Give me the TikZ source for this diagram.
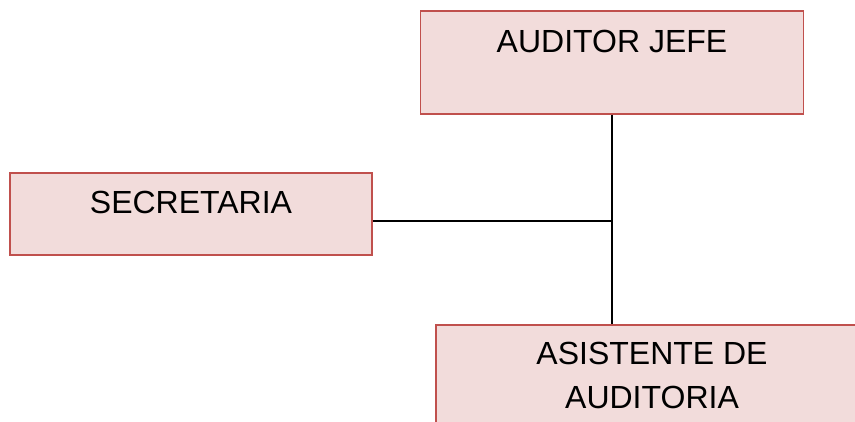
\documentclass[tikz,border=0pt]{standalone}
\usepackage{fontspec}
\setmainfont{Liberation Sans}

\tikzstyle{block} = [draw=boxred, fill=boxfill, line width=1.4pt, rectangle, inner sep=0pt, anchor=north, align=center, font=\fontsize{24}{33}\selectfont]
\tikzstyle{line} = [draw, line width=1.4pt]
\definecolor{boxred}{RGB}{192,80,77}
\definecolor{boxfill}{RGB}{242,220,219}

\begin{document}
\begin{tikzpicture}[x=0.75pt, y=-0.75pt]
	\useasboundingbox (0,0) rectangle (855,421);
	\clip (0,0) rectangle (855,421);

	\node [block, minimum width=287.25pt, text height=31.5pt, text depth=45.75pt] (jefe) at (612,10) {AUDITOR JEFE};
	\node [block, minimum width=271.5pt, text height=30.75pt, text depth=30.75pt] (secre) at (191,172) {SECRETARIA};
	\node [block, minimum width=324pt, text height=63pt, text depth=13.5pt] (asis) at (652,324) {ASISTENTE DE\\AUDITORIA};

	\coordinate (junc) at (612,221);
	\draw [line] (jefe.south) to (jefe.south |- asis.north);
	\draw [line] (secre.east |- junc) to (junc);
\end{tikzpicture}
\end{document}
